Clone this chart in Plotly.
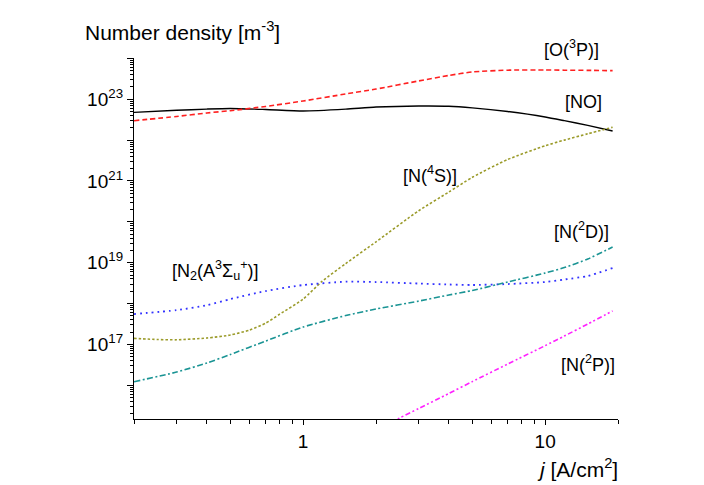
import numpy as np
import plotly.graph_objects as go

# ---- data (log10 of number density in m^-3) ----
j = [0.2, 0.3, 0.4, 0.5, 0.7, 1.0, 1.5, 2.0, 3.0, 4.0, 5.0, 7.0, 10.0, 12.0, 15.0, 19.0]

log_NO = [22.68, 22.73, 22.76, 22.775, 22.75, 22.714, 22.76, 22.81, 22.836, 22.83, 22.79,
          22.70, 22.567, 22.476, 22.36, 22.224]
log_O3P = [22.476, 22.579, 22.665, 22.72, 22.824, 22.958, 23.13, 23.25, 23.448, 23.583, 23.668,
           23.712, 23.717, 23.712, 23.708, 23.70]
log_N2A = [17.744, 17.84, 17.96, 18.11, 18.307, 18.454, 18.535, 18.527, 18.49, 18.467, 18.454,
           18.478, 18.527, 18.59, 18.674, 18.87]
log_N2D = [16.087, 16.324, 16.545, 16.753, 17.083, 17.426, 17.707, 17.867, 18.06, 18.21, 18.32,
           18.527, 18.748, 18.88, 19.09, 19.384]

j_N4S = [0.2, 0.25, 0.3, 0.4, 0.5, 0.6, 0.7, 0.8, 1.0, 1.2, 1.5, 2.0, 3.0, 4.0, 5.0, 7.0,
         10.0, 12.0, 15.0, 19.0]
log_N4S = [17.149, 17.12, 17.113, 17.157, 17.23, 17.352, 17.52, 17.74, 18.11, 18.55, 18.98,
           19.51, 20.27, 20.73, 21.09, 21.526, 21.862, 22.0, 22.155, 22.315]

j_N2P = [2.0, 2.5, 3.0, 4.0, 5.0, 7.0, 10.0, 12.0, 15.0, 19.0]
log_N2P = [14.917, 15.198, 15.43, 15.80, 16.09, 16.52, 16.97, 17.205, 17.50, 17.82]

y_major_exp = [16, 17, 18, 19, 20, 21, 22, 23, 24]
y_label_exp = [17, 19, 21, 23]
x_major = [1, 10]
x_major_text = ["1", "10"]

series = [
    ("[NO]", j, log_NO, "#000000", "solid", 1.4),
    ("[O(3P)]", j, log_O3P, "#ff2020", "5px,3px", 1.6),
    ("[N(4S)]", j_N4S, log_N4S, "#9b9b2a", "2.5px,2px", 1.6),
    ("[N2(A)]", j, log_N2A, "#3333ff", "1.8px,4px", 1.8),
    ("[N(2D)]", j, log_N2D, "#1a9494", "6px,2.5px,2px,2.5px", 1.6),
    ("[N(2P)]", j_N2P, log_N2P, "#ff22ff", "5px,2.5px,2px,2.5px,2px,2.5px", 1.6),
]

fig = go.Figure()
for name, xs, ys, col, dash, w in series:
    fig.add_trace(go.Scatter(
        x=xs, y=[10.0 ** v for v in ys], mode="lines", name=name,
        line=dict(color=col, dash=dash, width=w, shape="spline", smoothing=0.6),
        showlegend=False, hoverinfo="skip", cliponaxis=True))

font = "Liberation Sans, Arial, sans-serif"

y_minor = [float(m) * 10.0 ** e for e in range(15, 24) for m in range(2, 10)]
x_minor = [float(m) * 10.0 ** e for e in (-1, 0, 1) for m in range(2, 10)
           if 0.19 <= m * 10.0 ** e <= 21]

fig.update_layout(
    width=696, height=477,
    margin=dict(l=126, r=86, t=50, b=66),
    paper_bgcolor="white", plot_bgcolor="white",
    font=dict(family=font, size=18, color="black"),
    xaxis=dict(
        type="log", range=[np.log10(0.2), np.log10(20)],
        showgrid=False, zeroline=False,
        showline=True, linecolor="black", linewidth=1.3,
        ticks="outside", ticklen=5, tickwidth=1.2, tickcolor="black",
        tickmode="array", tickvals=x_major, ticktext=x_major_text,
        tickfont=dict(family=font, size=19, color="black"),
        minor=dict(tickmode="array", tickvals=x_minor, ticks="outside",
                   ticklen=4, tickwidth=1.1, tickcolor="black", showgrid=False),
    ),
    yaxis=dict(
        type="log", range=[15.175, 24.01],
        showgrid=False, zeroline=False,
        showline=True, linecolor="black", linewidth=1.3,
        ticks="outside", ticklen=6, tickwidth=1.2, tickcolor="black",
        tickmode="array", tickvals=[10.0 ** e for e in y_major_exp],
        ticktext=[("10<sup>%d</sup>" % e) if e in y_label_exp else "" for e in y_major_exp],
        tickfont=dict(family=font, size=19, color="black"),
        minor=dict(tickmode="array", tickvals=y_minor, ticks="outside",
                   ticklen=3, tickwidth=1.0, tickcolor="black", showgrid=False),
    ),
)

labels = [
    ("[O(<sup>3</sup>P)]", 0.903, 1.025),
    ("[NO]", 0.928, 0.878),
    ("[N(<sup>4</sup>S)]", 0.6116, 0.676),
    ("[N<sub>2</sub>(A<sup>3</sup>Σ<sub>u</sub><sup>+</sup>)]", 0.1674, 0.410),
    ("[N(<sup>2</sup>D)]", 0.9236, 0.5235),
    ("[N(<sup>2</sup>P)]", 0.938, 0.155),
]
for txt, xp, yp in labels:
    fig.add_annotation(text=txt, xref="paper", yref="paper", x=xp, y=yp,
                       xanchor="center", yanchor="middle", showarrow=False,
                       font=dict(family=font, size=18, color="black"))

fig.add_annotation(text="Number density [m<sup>-3</sup>]", xref="paper", yref="paper",
                   x=-0.105, y=1.0748, xanchor="left", yanchor="middle", showarrow=False,
                   font=dict(family=font, size=21, color="black"))
fig.add_annotation(text="<i>j</i> [A/cm<sup>2</sup>]", xref="paper", yref="paper",
                   x=1.004, y=-0.135, xanchor="right", yanchor="middle", showarrow=False,
                   font=dict(family=font, size=21, color="black"))

fig.write_html("out.html")
